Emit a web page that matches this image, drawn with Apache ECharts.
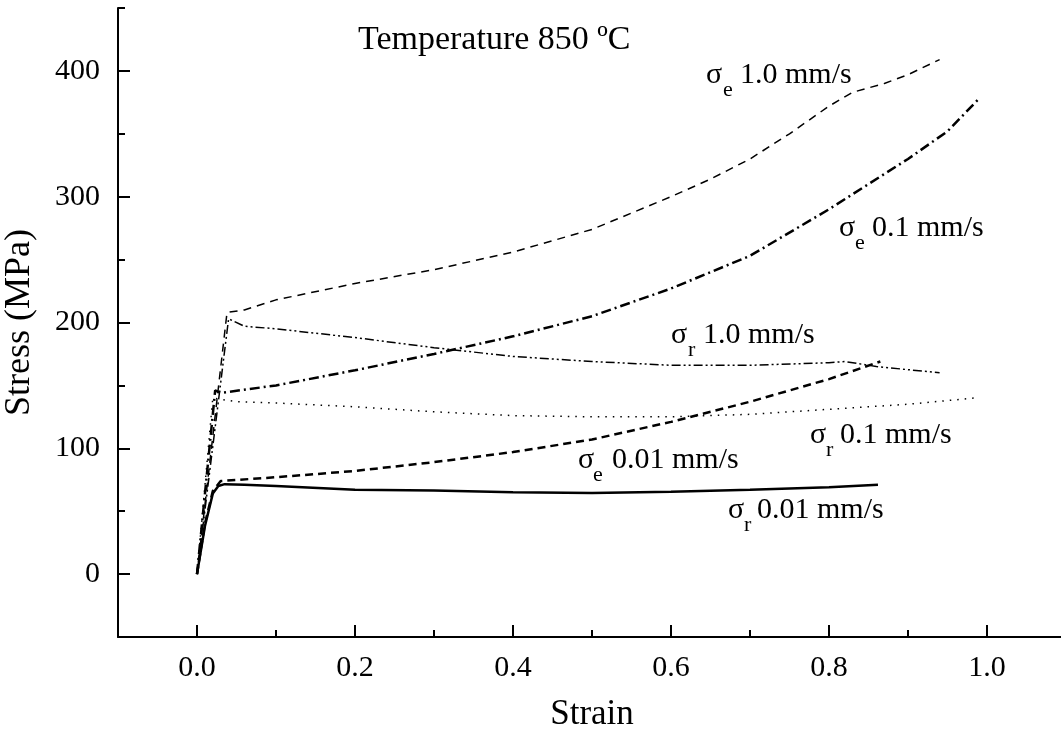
<!DOCTYPE html>
<html>
<head>
<meta charset="utf-8">
<script src="https://cdn.jsdelivr.net/npm/echarts@6/dist/echarts.min.js"></script>
<style>
  html, body { margin: 0; padding: 0; background: #fff; }
  #chart-container { width: 1061px; height: 740px; }
</style>
</head>
<body>
<div id="chart-container"></div>
<script>
// [strain, stress MPa]
const sigmaR001 = [[0, 0], [0.01, 38], [0.02, 64], [0.027, 70], [0.035, 71.5], [0.06, 71], [0.1, 70], [0.2, 67], [0.3, 66.5], [0.4, 65], [0.5, 64.5], [0.6, 65.5], [0.7, 67], [0.8, 69], [0.862, 71]];
const sigmaE001 = [[0, 0], [0.01, 40], [0.02, 66], [0.03, 74], [0.1, 77], [0.2, 82], [0.3, 89], [0.4, 97], [0.5, 107], [0.6, 121], [0.7, 137], [0.8, 155], [0.865, 169]];
const sigmaR01 = [[0, 0], [0.02, 140], [0.05, 137], [0.1, 136], [0.2, 133], [0.3, 129], [0.4, 126], [0.5, 125], [0.6, 125], [0.7, 127], [0.8, 131], [0.9, 135], [0.985, 140]];
const sigmaE01 = [[0, 0], [0.023, 146], [0.03, 144], [0.1, 150], [0.2, 162], [0.3, 175], [0.4, 189], [0.5, 205], [0.6, 227], [0.7, 253], [0.8, 290], [0.9, 330], [0.95, 352], [0.99, 378]];
const sigmaE10 = [[0, 0], [0.038, 208], [0.06, 210], [0.1, 218], [0.2, 231], [0.3, 242], [0.4, 256], [0.5, 274], [0.55, 287], [0.6, 300], [0.65, 314], [0.7, 330], [0.75, 350], [0.8, 372], [0.83, 383], [0.87, 390], [0.9, 397], [0.94, 409]];
const sigmaR10 = [[0, 0], [0.04, 203], [0.06, 197], [0.1, 195], [0.2, 188], [0.3, 180], [0.4, 173], [0.5, 169], [0.6, 166], [0.7, 166], [0.8, 168], [0.82, 169], [0.86, 165], [0.94, 160]];

const xMajor = [0, 0.2, 0.4, 0.6, 0.8, 1.0];
const xMinor = [0.1, 0.3, 0.5, 0.7, 0.9];
const yMajor = [0, 100, 200, 300, 400];
const yMinor = [50, 150, 250, 350, 450];

const FONT = '"Liberation Serif", "Times New Roman", serif';

var dom = document.getElementById('chart-container');
var myChart = echarts.init(dom, null, { renderer: 'canvas' });

function txt(x, y, s, size) {
    return {
        type: 'text', x: x, y: y,
        style: { text: s, fontSize: size, fontFamily: FONT, fill: '#000', textAlign: 'left', textVerticalAlign: 'middle' }
    };
}

// sigma label: sigma, subscript, then the rate
function sigmaLabel(x, y, sub, subX, text, textX) {
    return {
        type: 'group',
        children: [
            txt(x, y, 'σ', 30),
            txt(subX, y + 15, sub, 22),
            txt(textX, y, text, 30)
        ]
    };
}

function line(data, type, width) {
    return {
        type: 'line', data: data, showSymbol: false, symbol: 'none',
        lineStyle: { color: '#000', width: width, type: type },
        xAxisIndex: 0, yAxisIndex: 0, animation: false
    };
}

var axisLine = { show: true, onZero: false, lineStyle: { color: '#000', width: 2 } };

var option = {
    animation: false,
    grid: { left: 118, top: 8, right: -5, bottom: 103, outerBoundsMode: 'none', containLabel: false },
    xAxis: [
        {
            type: 'value', min: -0.1, max: 1.1, interval: 0.1,
            axisLine: axisLine,
            axisTick: { inside: true, length: 12, customValues: xMajor, lineStyle: { color: '#000', width: 2 } },
            axisLabel: { customValues: xMajor, margin: 16, fontSize: 30, fontFamily: FONT, color: '#000', formatter: v => v.toFixed(1) },
            splitLine: { show: false },
            name: 'Strain', nameLocation: 'middle', nameGap: 60,
            nameTextStyle: { fontSize: 35, fontFamily: FONT, color: '#000' }
        },
        {
            type: 'value', min: -0.1, max: 1.1, interval: 0.1, position: 'bottom',
            axisLine: { show: false, onZero: false },
            axisTick: { inside: true, length: 7, customValues: xMinor, lineStyle: { color: '#000', width: 2 } },
            axisLabel: { show: false },
            splitLine: { show: false }
        }
    ],
    yAxis: [
        {
            type: 'value', min: -50, max: 450, interval: 50,
            axisLine: axisLine,
            axisTick: { inside: true, length: 12, customValues: yMajor, lineStyle: { color: '#000', width: 2 } },
            axisLabel: { customValues: yMajor, margin: 18, fontSize: 30, fontFamily: FONT, color: '#000' },
            splitLine: { show: false },
            name: 'Stress (MPa)', nameLocation: 'middle', nameGap: 80, nameRotate: 90,
            nameTextStyle: { fontSize: 36, fontFamily: FONT, color: '#000' }
        },
        {
            type: 'value', min: -50, max: 450, interval: 50, position: 'left',
            axisLine: { show: false, onZero: false },
            axisTick: { inside: true, length: 7, customValues: yMinor, lineStyle: { color: '#000', width: 2 } },
            axisLabel: { show: false },
            splitLine: { show: false }
        }
    ],
    graphic: [
        txt(358, 40, 'Temperature 850 ºC', 34),
        sigmaLabel(706, 75, 'e', 723, '1.0 mm/s', 740),
        sigmaLabel(839, 228, 'e', 855, '0.1 mm/s', 872),
        sigmaLabel(671, 335, 'r', 688, '1.0 mm/s', 703),
        sigmaLabel(810, 435, 'r', 826, '0.1 mm/s', 840),
        sigmaLabel(578, 460, 'e', 593, '0.01 mm/s', 612),
        sigmaLabel(728, 510, 'r', 744, '0.01 mm/s', 757)
    ],
    series: [
        line(sigmaR001, 'solid', 2.5),
        line(sigmaE001, [8, 5], 2.5),
        line(sigmaR01, [1.5, 6], 1.5),
        line(sigmaE01, [10, 4, 2, 4], 2.5),
        line(sigmaE10, [8, 6], 1.5),
        line(sigmaR10, [9, 3, 2, 3, 2, 3], 1.5)
    ]
};

if (option && typeof option === 'object') {
    myChart.setOption(option);
}

window.addEventListener('resize', myChart.resize);
</script>
</body>
</html>
